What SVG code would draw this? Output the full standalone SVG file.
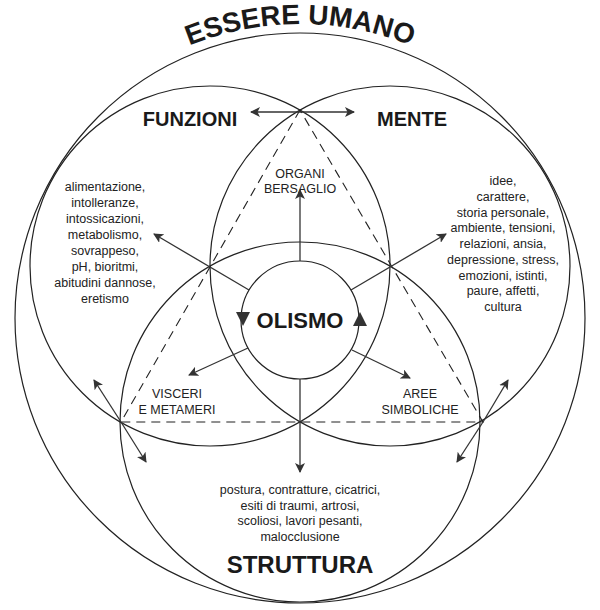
<svg xmlns="http://www.w3.org/2000/svg" width="600" height="610" viewBox="0 0 600 610">
<style>
.c{fill:none;stroke:#222;stroke-width:1.2}
.a{fill:none;stroke:#333;stroke-width:1.3;marker-end:url(#ah)}
.d{fill:none;stroke:#222;stroke-width:1.1;stroke-dasharray:9,6}
.s{font-family:"Liberation Sans",Arial,sans-serif;font-size:12.5px;fill:#222;text-anchor:middle}
.b{font-family:"Liberation Sans",Arial,sans-serif;font-weight:bold;fill:#1a1a1a;text-anchor:middle}
</style>
<defs>
<marker id="ah" viewBox="0 0 10 10" refX="9" refY="5" markerWidth="10" markerHeight="10" markerUnits="userSpaceOnUse" orient="auto">
<path d="M0,0 L10,5 L0,10 L2.5,5 Z" fill="#333"/>
</marker>
<path id="arc" d="M 6,318 A 294 294 0 0 1 594,318"/>
</defs>
<rect width="600" height="610" fill="#fff"/>
<g id="title"><text class="b" style="font-size:28px"><textPath href="#arc" startOffset="50%">ESSERE UMANO</textPath></text></g>
<g id="outer"><circle class="c" cx="300" cy="318" r="285"/></g>
<g id="funzioni"><circle class="c" cx="210" cy="266" r="180"/>
<text class="b" x="190" y="126" style="font-size:20px">FUNZIONI</text>
<text class="s"><tspan x="105" y="191">alimentazione,</tspan><tspan x="105" y="207">intolleranze,</tspan><tspan x="105" y="223">intossicazioni,</tspan><tspan x="105" y="239">metabolismo,</tspan><tspan x="105" y="255">sovrappeso,</tspan><tspan x="105" y="271">pH, bioritmi,</tspan><tspan x="105" y="287">abitudini dannose,</tspan><tspan x="105" y="303">eretismo</tspan></text></g>
<g id="mente"><circle class="c" cx="390" cy="266" r="180"/>
<text class="b" x="412" y="126" style="font-size:20px">MENTE</text>
<text class="s"><tspan x="503" y="185">idee,</tspan><tspan x="503" y="201">carattere,</tspan><tspan x="503" y="217">storia personale,</tspan><tspan x="503" y="232">ambiente, tensioni,</tspan><tspan x="503" y="248">relazioni, ansia,</tspan><tspan x="503" y="264">depressione, stress,</tspan><tspan x="503" y="280">emozioni, istinti,</tspan><tspan x="503" y="295">paure, affetti,</tspan><tspan x="503" y="311">cultura</tspan></text></g>
<g id="struttura"><circle class="c" cx="300" cy="422" r="180"/>
<text class="b" x="300" y="573" style="font-size:24px">STRUTTURA</text>
<text class="s"><tspan x="300" y="494">postura, contratture, cicatrici,</tspan><tspan x="300" y="510">esiti di traumi, artrosi,</tspan><tspan x="300" y="525">scoliosi, lavori pesanti,</tspan><tspan x="300" y="541">malocclusione</tspan></text></g>
<g id="triangle"><path class="d" d="M300,110 L121,422 L483,422 Z"/></g>
<g id="olismo"><circle class="c" cx="300" cy="320" r="59"/>
<text class="b" x="300" y="328" style="font-size:22px">OLISMO</text>
<path d="M236,312 L250,312 L243,326 Z" fill="#333"/>
<path d="M353,326 L367,326 L360,312 Z" fill="#333"/></g>
<g id="labels">
<text class="s"><tspan x="300" y="178">ORGANI</tspan><tspan x="300" y="193">BERSAGLIO</tspan></text>
<text class="s"><tspan x="177" y="398">VISCERI</tspan><tspan x="177" y="414">E METAMERI</tspan></text>
<text class="s"><tspan x="420" y="398">AREE</tspan><tspan x="420" y="414">SIMBOLICHE</tspan></text>
</g>
<g id="connectors">
<path class="a" d="M300,112 L251,112"/>
<path class="a" d="M300,112 L354,112"/>
<path class="a" d="M300,261 L300,190"/>
<path class="a" d="M300,379 L300,472"/>
<path class="a" d="M249,290 L154,234"/>
<path class="a" d="M351,290 L446,234"/>
<path class="a" d="M248,348 L189,375"/>
<path class="a" d="M352,350 L410,378"/>
<path class="a" d="M121,422 L94,380"/>
<path class="a" d="M121,422 L146,462"/>
<path class="a" d="M483,422 L508,380"/>
<path class="a" d="M483,422 L457,462"/>
</g>
</svg>
